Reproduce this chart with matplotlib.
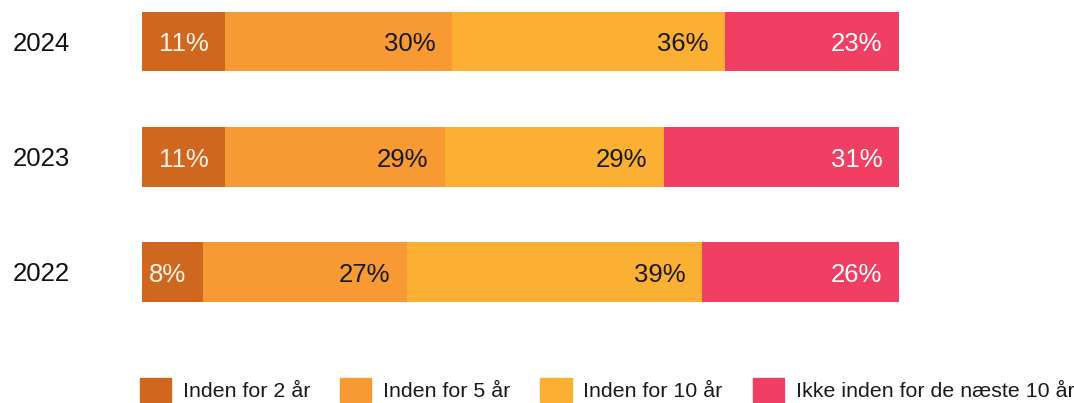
import matplotlib.pyplot as plt
from matplotlib.patches import Patch
from matplotlib.transforms import ScaledTranslation

plt.rcParams['font.family'] = ['Liberation Sans', 'DejaVu Sans']

years = ["2022", "2023", "2024"]
categories = ["Inden for 2 år", "Inden for 5 år", "Inden for 10 år",
              "Ikke inden for de næste 10 år"]
values = {
    "Inden for 2 år": [8, 11, 11],
    "Inden for 5 år": [27, 29, 30],
    "Inden for 10 år": [39, 29, 36],
    "Ikke inden for de næste 10 år": [26, 31, 23],
}
colors = ["#CF681E", "#F79A34", "#FBB034", "#F03F62"]
label_colors = ["#FDF2EA", "#1A1A1A", "#1A1A1A", "#FFFFFF"]

fig = plt.figure(figsize=(10.74, 4.03), dpi=100)
ax = fig.add_axes([142 / 1074, 1 - 329.5 / 403, 757 / 1074, 329.5 / 403])

# nudge text a few pixels down
down = ScaledTranslation(0, -3 / 100, fig.dpi_scale_trans)

ypos = list(range(len(years)))
left = [0] * len(years)
for cat, col, tcol in zip(categories, colors, label_colors):
    vals = values[cat]
    ax.barh(ypos, vals, left=left, height=0.52, color=col, label=cat)
    for y, v, l in zip(ypos, vals, left):
        end = l + v
        ax.text(end - 2.2, y, f"{v}%", ha="right", va="center",
                fontsize=18.5, color=tcol, transform=ax.transData + down)
    left = [l + v for l, v in zip(left, vals)]

ax.set_xlim(0, 100)
ax.set_ylim(-0.5, 2.36)
ax.set_yticks(ypos)
ax.set_yticklabels(years, fontsize=18.5, color="#111111")
for lab in ax.get_yticklabels():
    lab.set_ha("left")
    lab.set_transform(lab.get_transform() + down)
ax.tick_params(axis="y", length=0, pad=93)
ax.set_xticks([])
for s in ax.spines.values():
    s.set_visible(False)

handles = [Patch(color=c) for c in colors]
fig.legend(handles, categories, loc="center left",
           bbox_to_anchor=(140 / 1074, 1 - 390 / 403), ncol=4,
           frameon=False, fontsize=15.4, handlelength=1.45, handleheight=1.4,
           handletextpad=0.56, columnspacing=1.4, borderpad=0,
           borderaxespad=0, labelcolor="#1A1A1A")

fig.savefig("out.png", dpi=100)
